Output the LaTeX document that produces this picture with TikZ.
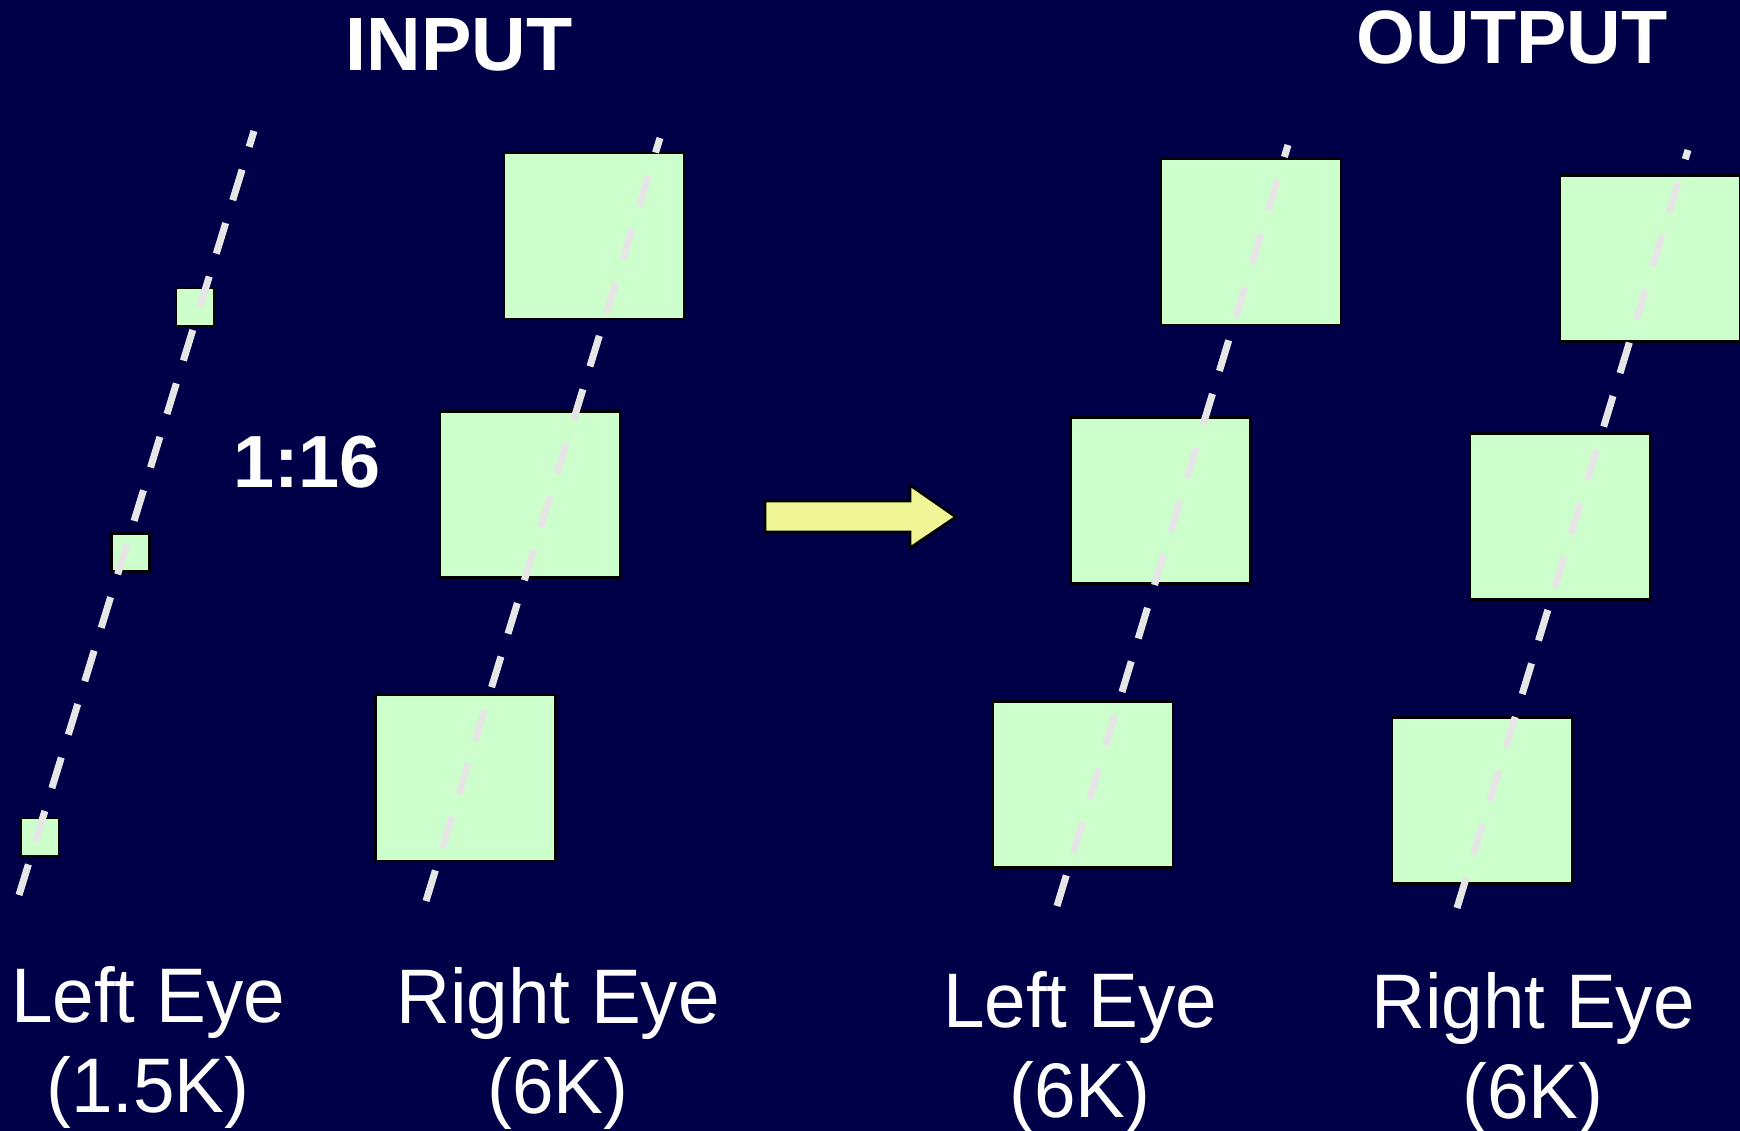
\documentclass[tikz,border=0pt]{standalone}
\usepackage{fontspec}
\setmainfont{Liberation Sans}
\newfontfamily\eyefont[FakeStretch=0.965]{Liberation Sans}
\definecolor{slidebg}{RGB}{0,0,72}
\definecolor{blockgreen}{RGB}{204,255,204}
\definecolor{arrowyellow}{RGB}{240,245,150}
\definecolor{tracegray}{RGB}{230,230,230}

\begin{document}
\begin{tikzpicture}[x=0.01cm, y=-0.01cm,
    blk/.style={draw=black, line width=0.7pt, fill=blockgreen, inner sep=0pt,
      minimum width=1.8cm, minimum height=1.66cm},
    tinyblk/.style={blk, minimum width=0.38cm, minimum height=0.38cm},
    trace/.style={draw=tracegray, line width=2pt, dash pattern=on 9.1pt off 6.8pt},
    heading/.style={text=white, inner sep=0pt, anchor=base,
      font=\bfseries\fontsize{21.5}{26}\selectfont},
    eyelabel/.style={text=white, inner sep=0pt, anchor=base,
      font=\eyefont\fontsize{22}{26}\selectfont}]

    \fill[slidebg] (0,0) rectangle (1740,1131);
    \useasboundingbox (0,0) rectangle (1740,1131);

    % titles
    \node[heading] (intitle) at (459,71) {INPUT};
    \node[heading] (outtitle) at (1512,64) {OUTPUT};
    \node[heading, font=\bfseries\fontsize{21}{25}\selectfont] (ratio) at (307,488) {1:16};

    % input, left eye (1.5K)
    \node[tinyblk] (inL1) at (195,307) {};
    \node[tinyblk] (inL2) at (130.5,552.5) {};
    \node[tinyblk] (inL3) at (40,837) {};

    % input, right eye (6K)
    \node[blk] (inR1) at (594,236) {};
    \node[blk] (inR2) at (530,494.5) {};
    \node[blk] (inR3) at (465.5,778) {};

    % output, left eye
    \node[blk] (outL1) at (1251,242) {};
    \node[blk] (outL2) at (1160.5,500.5) {};
    \node[blk] (outL3) at (1083,784.5) {};

    % output, right eye
    \node[blk] (outR1) at (1650,258.5) {};
    \node[blk] (outR2) at (1560,516.5) {};
    \node[blk] (outR3) at (1482,800.5) {};

    % dashed traces
    \coordinate (inLbot) at (19,895);    \coordinate (inLtop) at (254,131);
    \coordinate (inRbot) at (426,901);   \coordinate (inRtop) at (660,138);
    \coordinate (outLbot) at (1057,906); \coordinate (outLtop) at (1288,145);
    \coordinate (outRbot) at (1457,908); \coordinate (outRtop) at (1688,150);
    \foreach \t in {inL,inR,outL,outR}
      \draw[trace] (\t bot) -- (\t top);

    % arrow
    \draw[fill=arrowyellow, line width=0.8pt, line join=miter]
      (765,501) -- (910,501) -- (910,485) -- (956,517)
      -- (910,548) -- (910,532) -- (765,532) -- cycle;

    % labels
    \foreach \n/\x/\y/\a/\b in {lblinL/148/1022/Left Eye/(1.5K),
                                lblinR/558/1023/Right Eye/(6K),
                                lbloutL/1080/1027/Left Eye/(6K),
                                lbloutR/1533/1028/Right Eye/(6K)}
    {\node[eyelabel] (\n a) at (\x,\y) {\a};
     \node[eyelabel] (\n b) at (\x,\y+90) {\b};
    }

\end{tikzpicture}
\end{document}
